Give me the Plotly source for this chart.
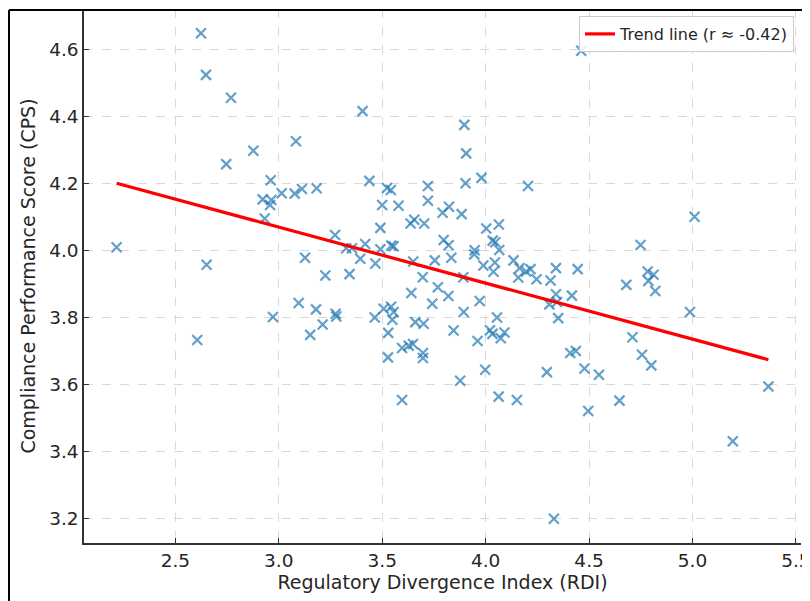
import plotly.graph_objects as go

# Data
rdi = [2.216, 2.624, 2.648, 2.769, 2.746, 2.877, 3.083, 2.961, 2.922, 2.964,
       2.958, 3.014, 3.077, 3.112, 3.183, 2.932, 3.272, 3.326, 3.354, 2.651,
       3.127, 3.225, 3.342, 3.096, 3.180, 3.275, 3.278, 2.972, 3.212, 3.152,
       2.606, 3.405, 3.438, 3.523, 3.542, 3.721, 3.903, 3.980, 4.205, 3.906,
       3.897, 4.462, 3.500, 3.579, 3.721, 3.792, 3.823, 3.884, 3.637, 3.655,
       3.703, 3.491, 4.003, 4.064, 3.418, 3.544, 3.555, 3.491, 3.797, 3.821,
       4.034, 4.047, 4.066, 3.947, 3.945, 3.394, 3.467, 3.650, 3.754, 3.834,
       3.989, 4.045, 4.038, 4.135, 4.164, 4.158, 4.196, 4.217, 4.246, 4.314,
       4.340, 4.445, 3.696, 3.892, 3.641, 3.769, 3.820, 3.971, 3.742, 3.894,
       4.340, 4.345, 4.308, 4.417, 3.507, 3.543, 3.555, 3.464, 3.549, 4.055,
       4.351, 3.660, 3.700, 3.845, 3.529, 4.021, 4.033, 4.091, 4.073, 3.961,
       3.596, 3.628, 3.649, 3.528, 3.697, 3.697, 3.998, 4.296, 4.409, 4.436,
       4.478, 4.548, 3.877, 3.596, 4.063, 4.151, 4.496, 4.330, 4.710, 4.756,
       4.801, 4.647, 5.367, 5.195, 5.010, 4.749, 4.783, 4.812, 4.787, 4.820,
       4.680, 4.988]
cps = [4.009, 4.647, 4.523, 4.455, 4.257, 4.297, 4.325, 4.209, 4.152, 4.150,
       4.135, 4.170, 4.169, 4.183, 4.185, 4.095, 4.046, 4.006, 4.006, 3.957,
       3.978, 3.925, 3.929, 3.843, 3.824, 3.811, 3.803, 3.801, 3.779, 3.748,
       3.733, 4.415, 4.207, 4.186, 4.180, 4.192, 4.200, 4.216, 4.192, 4.289,
       4.374, 4.595, 4.135, 4.133, 4.148, 4.112, 4.130, 4.108, 4.080, 4.091,
       4.080, 4.067, 4.065, 4.077, 4.019, 4.014, 4.012, 4.003, 4.031, 4.015,
       4.029, 4.024, 4.001, 4.000, 3.988, 3.975, 3.961, 3.967, 3.970, 3.978,
       3.955, 3.964, 3.936, 3.970, 3.947, 3.919, 3.937, 3.944, 3.914, 3.910,
       3.947, 3.944, 3.920, 3.920, 3.873, 3.890, 3.864, 3.849, 3.841, 3.816,
       3.869, 3.846, 3.839, 3.865, 3.826, 3.832, 3.816, 3.800, 3.793, 3.800,
       3.798, 3.786, 3.781, 3.761, 3.754, 3.762, 3.751, 3.755, 3.738, 3.730,
       3.709, 3.716, 3.721, 3.681, 3.694, 3.679, 3.644, 3.637, 3.694, 3.700,
       3.648, 3.629, 3.611, 3.554, 3.564, 3.554, 3.521, 3.200, 3.741, 3.689,
       3.657, 3.552, 3.594, 3.431, 4.100, 4.016, 3.937, 3.927, 3.909, 3.879,
       3.897, 3.816]

trend_x = [2.216, 5.367]
trend_y = [4.200, 3.674]
trend_name = "Trend line (r ≈ -0.42)"

x_ticks = [2.5, 3.0, 3.5, 4.0, 4.5, 5.0, 5.5]
y_ticks = [3.2, 3.4, 3.6, 3.8, 4.0, 4.2, 4.4, 4.6]

x_title = "Regulatory Divergence Index (RDI)"
y_title = "Compliance Performance Score (CPS)"

FONT = "DejaVu Sans"

fig = go.Figure()
fig.add_trace(go.Scatter(
    x=rdi, y=cps, mode="markers", showlegend=False,
    marker=dict(symbol="x-thin", size=10, color="rgba(31,119,180,0.7)",
                line=dict(width=2.2, color="rgba(31,119,180,0.7)")),
    cliponaxis=False,
))
fig.add_trace(go.Scatter(
    x=trend_x, y=trend_y, mode="lines", name=trend_name,
    line=dict(color="#ff0000", width=3.2),
))

# The page body has an 8px default margin; size the figure to fit the window.
OFF = 8
W, H = 810 - OFF, 601 - OFF
# desired plot area in page pixels: left 84, right 801, top 9, bottom 543
PL, PR, PT, PB = 84, 801, 9, 543
ML, MR, MT, MB = PL - OFF, W - (PR - OFF), PT - OFF, H - (PB - OFF)
pw, ph = W - ML - MR, H - MT - MB

def px2paper_x(px):
    return (px - PL) / pw

def px2paper_y(py):
    return (PB - py) / ph

axis_common = dict(
    showgrid=True, gridcolor="#d9d9d9", griddash="dash", gridwidth=1,
    zeroline=False, showline=True, linecolor="#333333", linewidth=1.5,
    ticks="inside", ticklen=5, tickwidth=1.2, tickcolor="#333333",
    tickfont=dict(family=FONT, size=18.5, color="#262626"),
    tickformat=".1f", mirror=False, automargin=False,
    ticklabeloverflow="allow",
)

fig.update_layout(
    width=W, height=H,
    margin=dict(l=ML, r=MR, t=MT, b=MB, pad=0),
    paper_bgcolor="white", plot_bgcolor="white",
    font=dict(family=FONT, color="#262626"),
    xaxis=dict(range=[2.0584, 5.5246], tickvals=x_ticks,
               title=dict(text=x_title, font=dict(family=FONT, size=19, color="#262626"), standoff=6),
               **axis_common),
    yaxis=dict(range=[3.1276, 4.7194], tickvals=y_ticks,
               title=dict(text=y_title, font=dict(family=FONT, size=19, color="#262626"), standoff=8),
               **axis_common),
    legend=dict(x=px2paper_x(794), y=px2paper_y(16), xanchor="right", yanchor="top",
                bgcolor="rgba(255,255,255,0.85)", bordercolor="#cccccc", borderwidth=1,
                font=dict(family=FONT, size=16, color="#262626")),
    shapes=[
        dict(type="line", xref="paper", yref="paper",
             x0=px2paper_x(9), x1=px2paper_x(815), y0=px2paper_y(10), y1=px2paper_y(10),
             line=dict(color="black", width=2)),
        dict(type="line", xref="paper", yref="paper",
             x0=px2paper_x(9), x1=px2paper_x(9), y0=px2paper_y(10), y1=px2paper_y(610),
             line=dict(color="black", width=2)),
    ],
)

fig.write_html("out.html")
